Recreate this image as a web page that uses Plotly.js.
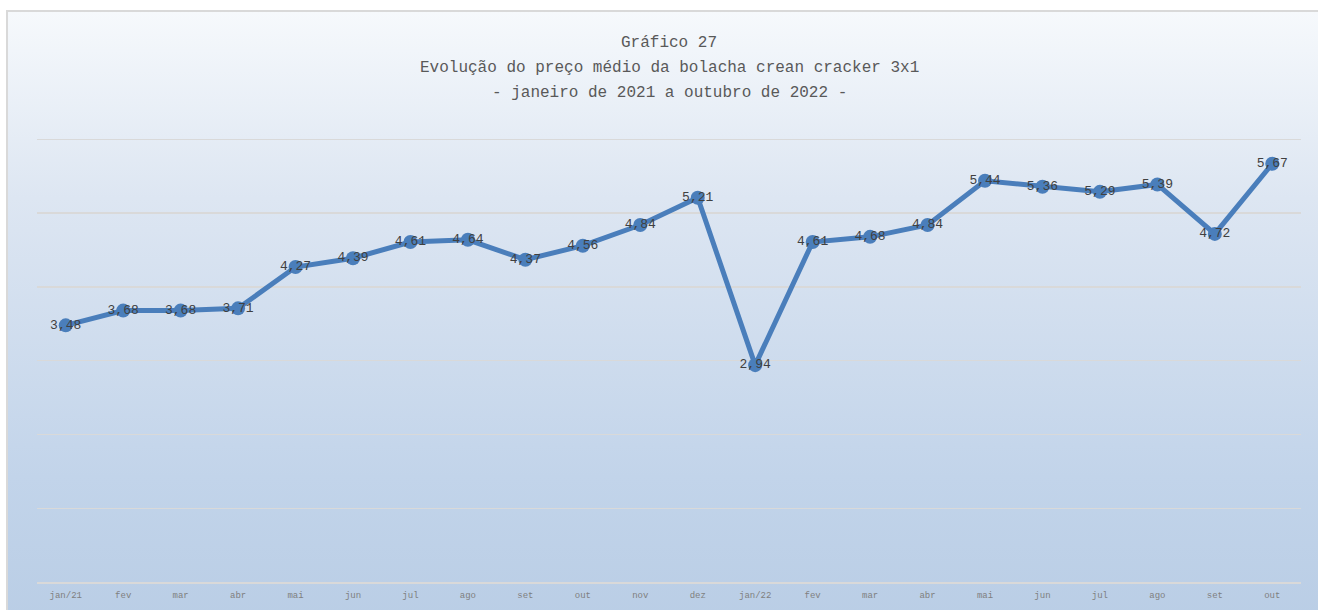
<!DOCTYPE html>
<html>
<head>
<meta charset="utf-8">
<script src="https://cdn.plot.ly/plotly-3.0.1.min.js"></script>
<style>
  html, body { margin: 0; padding: 0; background: #ffffff; }
  #wrap { position: relative; width: 1318px; height: 610px; overflow: hidden; }
  #bg { position: absolute; left: 6px; top: 10px; width: 1330px; height: 620px;
        border-left: 2px solid #d9d9d9; border-top: 2px solid #d9d9d9;
        background: linear-gradient(to bottom, #f6f9fc 0%, #dde6f2 30%, #c2d4ea 75%, #b9cde5 100%); }
  #chart { position: absolute; left: 0; top: 0; width: 1318px; height: 610px; }
</style>
</head>
<body>
<div id="wrap">
  <div id="bg"></div>
  <div id="chart"></div>
</div>
<script>
const titleLines = ["Gráfico 27",
                    "Evolução do preço médio da bolacha crean cracker 3x1",
                    "- janeiro de 2021 a outubro de 2022 -"];
const tickLabels = ["jan/21","fev","mar","abr","mai","jun","jul","ago","set","out","nov","dez",
                    "jan/22","fev","mar","abr","mai","jun","jul","ago","set","out"];
const prices = [3.48, 3.68, 3.68, 3.71, 4.27, 4.39, 4.61, 4.64, 4.37, 4.56, 4.84, 5.21,
                2.94, 4.61, 4.68, 4.84, 5.44, 5.36, 5.29, 5.39, 4.72, 5.67];
const priceLabels = prices.map(v => v.toFixed(2).replace('.', ','));
const idx = tickLabels.map((m, i) => i);

const trace = {
  type: 'scatter',
  mode: 'lines+markers+text',
  x: idx,
  y: prices,
  text: priceLabels,
  textposition: 'middle center',
  textfont: { family: 'Liberation Mono, monospace', size: 13, color: '#404040' },
  line: { color: '#4a7ebb', width: 5 },
  marker: { color: '#4a7ebb', size: 14 },
  hoverinfo: 'x+y',
  cliponaxis: false
};

const titleFont = { family: 'Liberation Mono, monospace', size: 16, color: '#595959' };

const layout = {
  width: 1318, height: 610,
  paper_bgcolor: 'rgba(0,0,0,0)',
  plot_bgcolor: 'rgba(0,0,0,0)',
  margin: { l: 37, r: 17, t: 138, b: 28 },
  showlegend: false,
  title: {
    text: titleLines[0],
    font: titleFont,
    x: 0.5, xanchor: 'center', xref: 'paper',
    y: 1 - 41 / 610, yanchor: 'middle', yref: 'container'
  },
  annotations: [
    { text: titleLines[1], font: titleFont, showarrow: false,
      xref: 'paper', x: 0.5, xanchor: 'center',
      yref: 'paper', y: 1 + (138 - 68) / 444, yanchor: 'middle' },
    { text: titleLines[2], font: titleFont, showarrow: false,
      xref: 'paper', x: 0.5, xanchor: 'center',
      yref: 'paper', y: 1 + (138 - 93) / 444, yanchor: 'middle' }
  ],
  xaxis: {
    type: 'linear',
    range: [-0.5, 21.5],
    tickmode: 'array',
    tickvals: idx,
    ticktext: tickLabels,
    tickfont: { family: 'Liberation Mono, monospace', size: 9, color: '#7f7f7f' },
    ticklabelstandoff: 3,
    showgrid: false,
    zeroline: false,
    showline: true,
    linecolor: '#d9d9d9',
    linewidth: 2,
    ticks: '',
    fixedrange: true
  },
  yaxis: {
    range: [0, 6.02],
    tickmode: 'linear',
    tick0: 0,
    dtick: 1,
    showticklabels: false,
    showgrid: true,
    gridcolor: '#d9d9d9',
    gridwidth: 1.5,
    zeroline: false,
    showline: false,
    ticks: '',
    fixedrange: true
  }
};

Plotly.newPlot('chart', [trace], layout, { displayModeBar: false, staticPlot: true });
</script>
</body>
</html>
